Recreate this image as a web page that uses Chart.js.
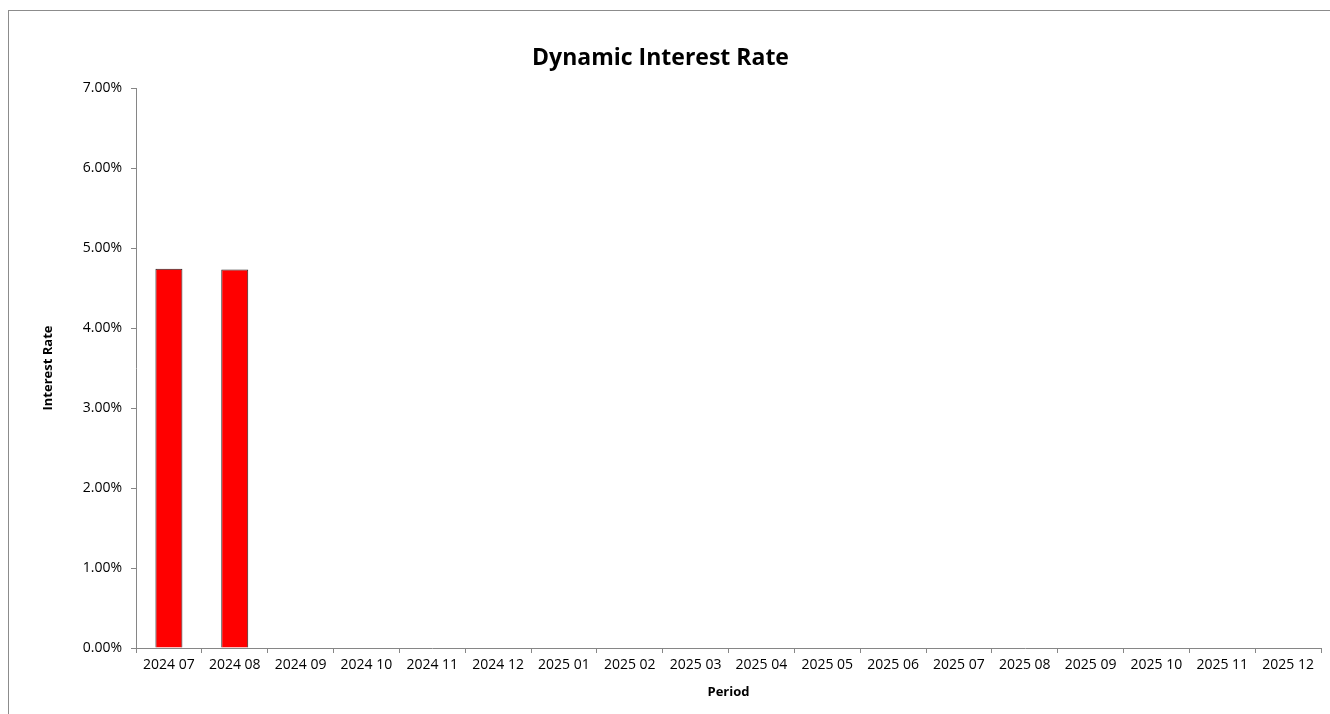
<!DOCTYPE html>
<html>
<head>
<meta charset="utf-8">
<script src="https://cdn.jsdelivr.net/npm/chart.js@4"></script>
<style>
  html, body { margin: 0; padding: 0; background: #fff; overflow: hidden; }
  #frame { position: absolute; left: 8px; top: 10px; width: 1400px; height: 800px; border: 1px solid #8c8c8c; }
  #chart { position: absolute; left: 0; top: 0; }
</style>
</head>
<body>
<div id="frame"></div>
<canvas id="chart" width="1330" height="714"></canvas>
<script>
// chart data
const periods = ['2024 07', '2024 08', '2024 09', '2024 10', '2024 11', '2024 12',
  '2025 01', '2025 02', '2025 03', '2025 04', '2025 05', '2025 06',
  '2025 07', '2025 08', '2025 09', '2025 10', '2025 11', '2025 12'];
const interestRates = [0.0474, 0.0473, null, null, null, null, null, null, null,
  null, null, null, null, null, null, null, null, null];
const yTicks = [0, 0.01, 0.02, 0.03, 0.04, 0.05, 0.06, 0.07];

const FONT = '"Open Sans", "Noto Sans", sans-serif';
const AXIS_GRAY = '#868686';

const ctx = document.getElementById('chart');
new Chart(ctx, {
    type: 'bar',
    data: {
        labels: periods,
        datasets: [{
            label: 'Interest Rate',
            data: interestRates,
            backgroundColor: '#ff0000',
            borderColor: '#222222',
            borderWidth: 1,
            categoryPercentage: 1,
            barPercentage: 0.41
        }]
    },
    options: {
        responsive: false,
        animation: false,
        layout: { padding: { left: 0, right: 9, top: 0, bottom: 0 } },
        plugins: {
            legend: { display: false },
            tooltip: { enabled: false },
            title: {
                display: true,
                text: 'Dynamic Interest Rate',
                color: '#000',
                font: { family: FONT, size: 23, weight: 'bold' },
                padding: { top: 45, bottom: 15.4 }
            }
        },
        scales: {
            x: {
                grid: { drawOnChartArea: false, drawTicks: true, tickLength: 5, color: AXIS_GRAY, offset: true },
                border: { color: AXIS_GRAY },
                ticks: { color: '#000', font: { family: FONT, size: 14 }, padding: 4, maxRotation: 0, autoSkip: false },
                title: {
                    display: true, text: 'Period', color: '#000',
                    font: { family: FONT, size: 13, weight: 'bold' },
                    padding: { top: 0, bottom: 14 }
                },
                afterFit: scale => { scale.height = 66; }
            },
            y: {
                min: 0,
                max: 0.07,
                afterBuildTicks: scale => { scale.ticks = yTicks.map(v => ({ value: v })); },
                grid: { drawOnChartArea: false, drawTicks: true, tickLength: 5, color: AXIS_GRAY },
                border: { color: AXIS_GRAY },
                ticks: {
                    color: '#000', font: { family: FONT, size: 14 }, padding: 9,
                    callback: v => (v * 100).toFixed(2) + '%'
                },
                title: {
                    display: true, text: 'Interest Rate', color: '#000',
                    font: { family: FONT, size: 13, weight: 'bold' },
                    padding: { top: 40, bottom: 0 }
                },
                afterFit: scale => { scale.width = 136; }
            }
        }
    }
});
</script>
</body>
</html>
